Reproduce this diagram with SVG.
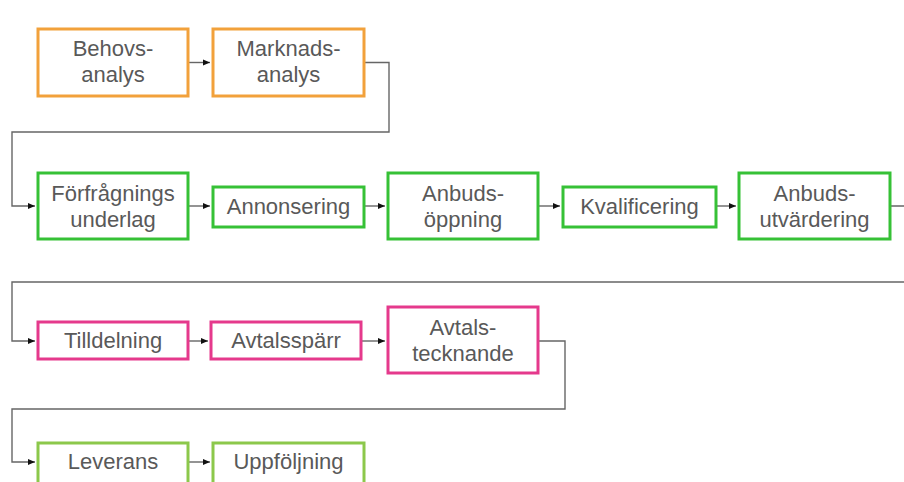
<svg xmlns="http://www.w3.org/2000/svg" width="904" height="482" viewBox="0 0 904 482">
<style>
.box{fill:#fff;stroke-width:3}
.o{stroke:#F2A13B}
.g{stroke:#36C136}
.p{stroke:#E5398C}
.lg{stroke:#8CC84B}
text{font-family:"Liberation Sans",Arial,sans-serif;font-size:22px;fill:#595959;text-anchor:middle}
.c{fill:none;stroke:#666;stroke-width:1.4}
</style>
<defs>
<marker id="ah" markerUnits="userSpaceOnUse" markerWidth="8" markerHeight="8" refX="7" refY="4" orient="auto">
<path d="M0,1 L7,4 L0,7 Z" fill="#111"/>
</marker>
</defs>
<rect width="904" height="482" fill="#fff"/>
<g id="connectors">
<path class="c" d="M189,62.5 H210" marker-end="url(#ah)"/>
<path class="c" d="M365,62.5 H389 V132 H12 V206 H35" marker-end="url(#ah)"/>
<path class="c" d="M189,206 H210" marker-end="url(#ah)"/>
<path class="c" d="M365,206 H385" marker-end="url(#ah)"/>
<path class="c" d="M539,206 H560" marker-end="url(#ah)"/>
<path class="c" d="M717,206 H736" marker-end="url(#ah)"/>
<path class="c" d="M891,206 H912 V282 H12 V341 H35" marker-end="url(#ah)"/>
<path class="c" d="M189,341 H208" marker-end="url(#ah)"/>
<path class="c" d="M362,341 H385" marker-end="url(#ah)"/>
<path class="c" d="M539,341 H565 V409 H12 V462 H35" marker-end="url(#ah)"/>
<path class="c" d="M189,462 H210" marker-end="url(#ah)"/>
</g>
<g id="behovsanalys"><rect class="box o" x="38" y="29" width="150" height="67"/><text x="113" y="56">Behovs-</text><text x="113" y="82">analys</text></g>
<g id="marknadsanalys"><rect class="box o" x="213" y="29" width="151" height="67"/><text x="288.5" y="56">Marknads-</text><text x="288.5" y="82">analys</text></g>
<g id="forfragningsunderlag"><rect class="box g" x="38" y="173" width="150" height="66"/><text x="113" y="201">Förfrågnings</text><text x="113" y="227">underlag</text></g>
<g id="annonsering"><rect class="box g" x="213" y="187" width="151" height="40"/><text x="288.5" y="214">Annonsering</text></g>
<g id="anbudsoppning"><rect class="box g" x="388" y="173" width="150" height="66"/><text x="463" y="201">Anbuds-</text><text x="463" y="227">öppning</text></g>
<g id="kvalificering"><rect class="box g" x="563" y="187" width="153" height="40"/><text x="639.5" y="214">Kvalificering</text></g>
<g id="anbudsutvardering"><rect class="box g" x="739" y="173" width="151" height="66"/><text x="814.5" y="201">Anbuds-</text><text x="814.5" y="227">utvärdering</text></g>
<g id="tilldelning"><rect class="box p" x="38" y="322" width="150" height="37"/><text x="113" y="348">Tilldelning</text></g>
<g id="avtalssparr"><rect class="box p" x="211" y="322" width="150" height="37"/><text x="286" y="348">Avtalsspärr</text></g>
<g id="avtalstecknande"><rect class="box p" x="388" y="307" width="150" height="66"/><text x="463" y="335">Avtals-</text><text x="463" y="361">tecknande</text></g>
<g id="leverans"><rect class="box lg" x="38" y="443" width="150" height="44"/><text x="113" y="469">Leverans</text></g>
<g id="uppfoljning"><rect class="box lg" x="213" y="443" width="151" height="44"/><text x="288.5" y="469">Uppföljning</text></g>
</svg>
